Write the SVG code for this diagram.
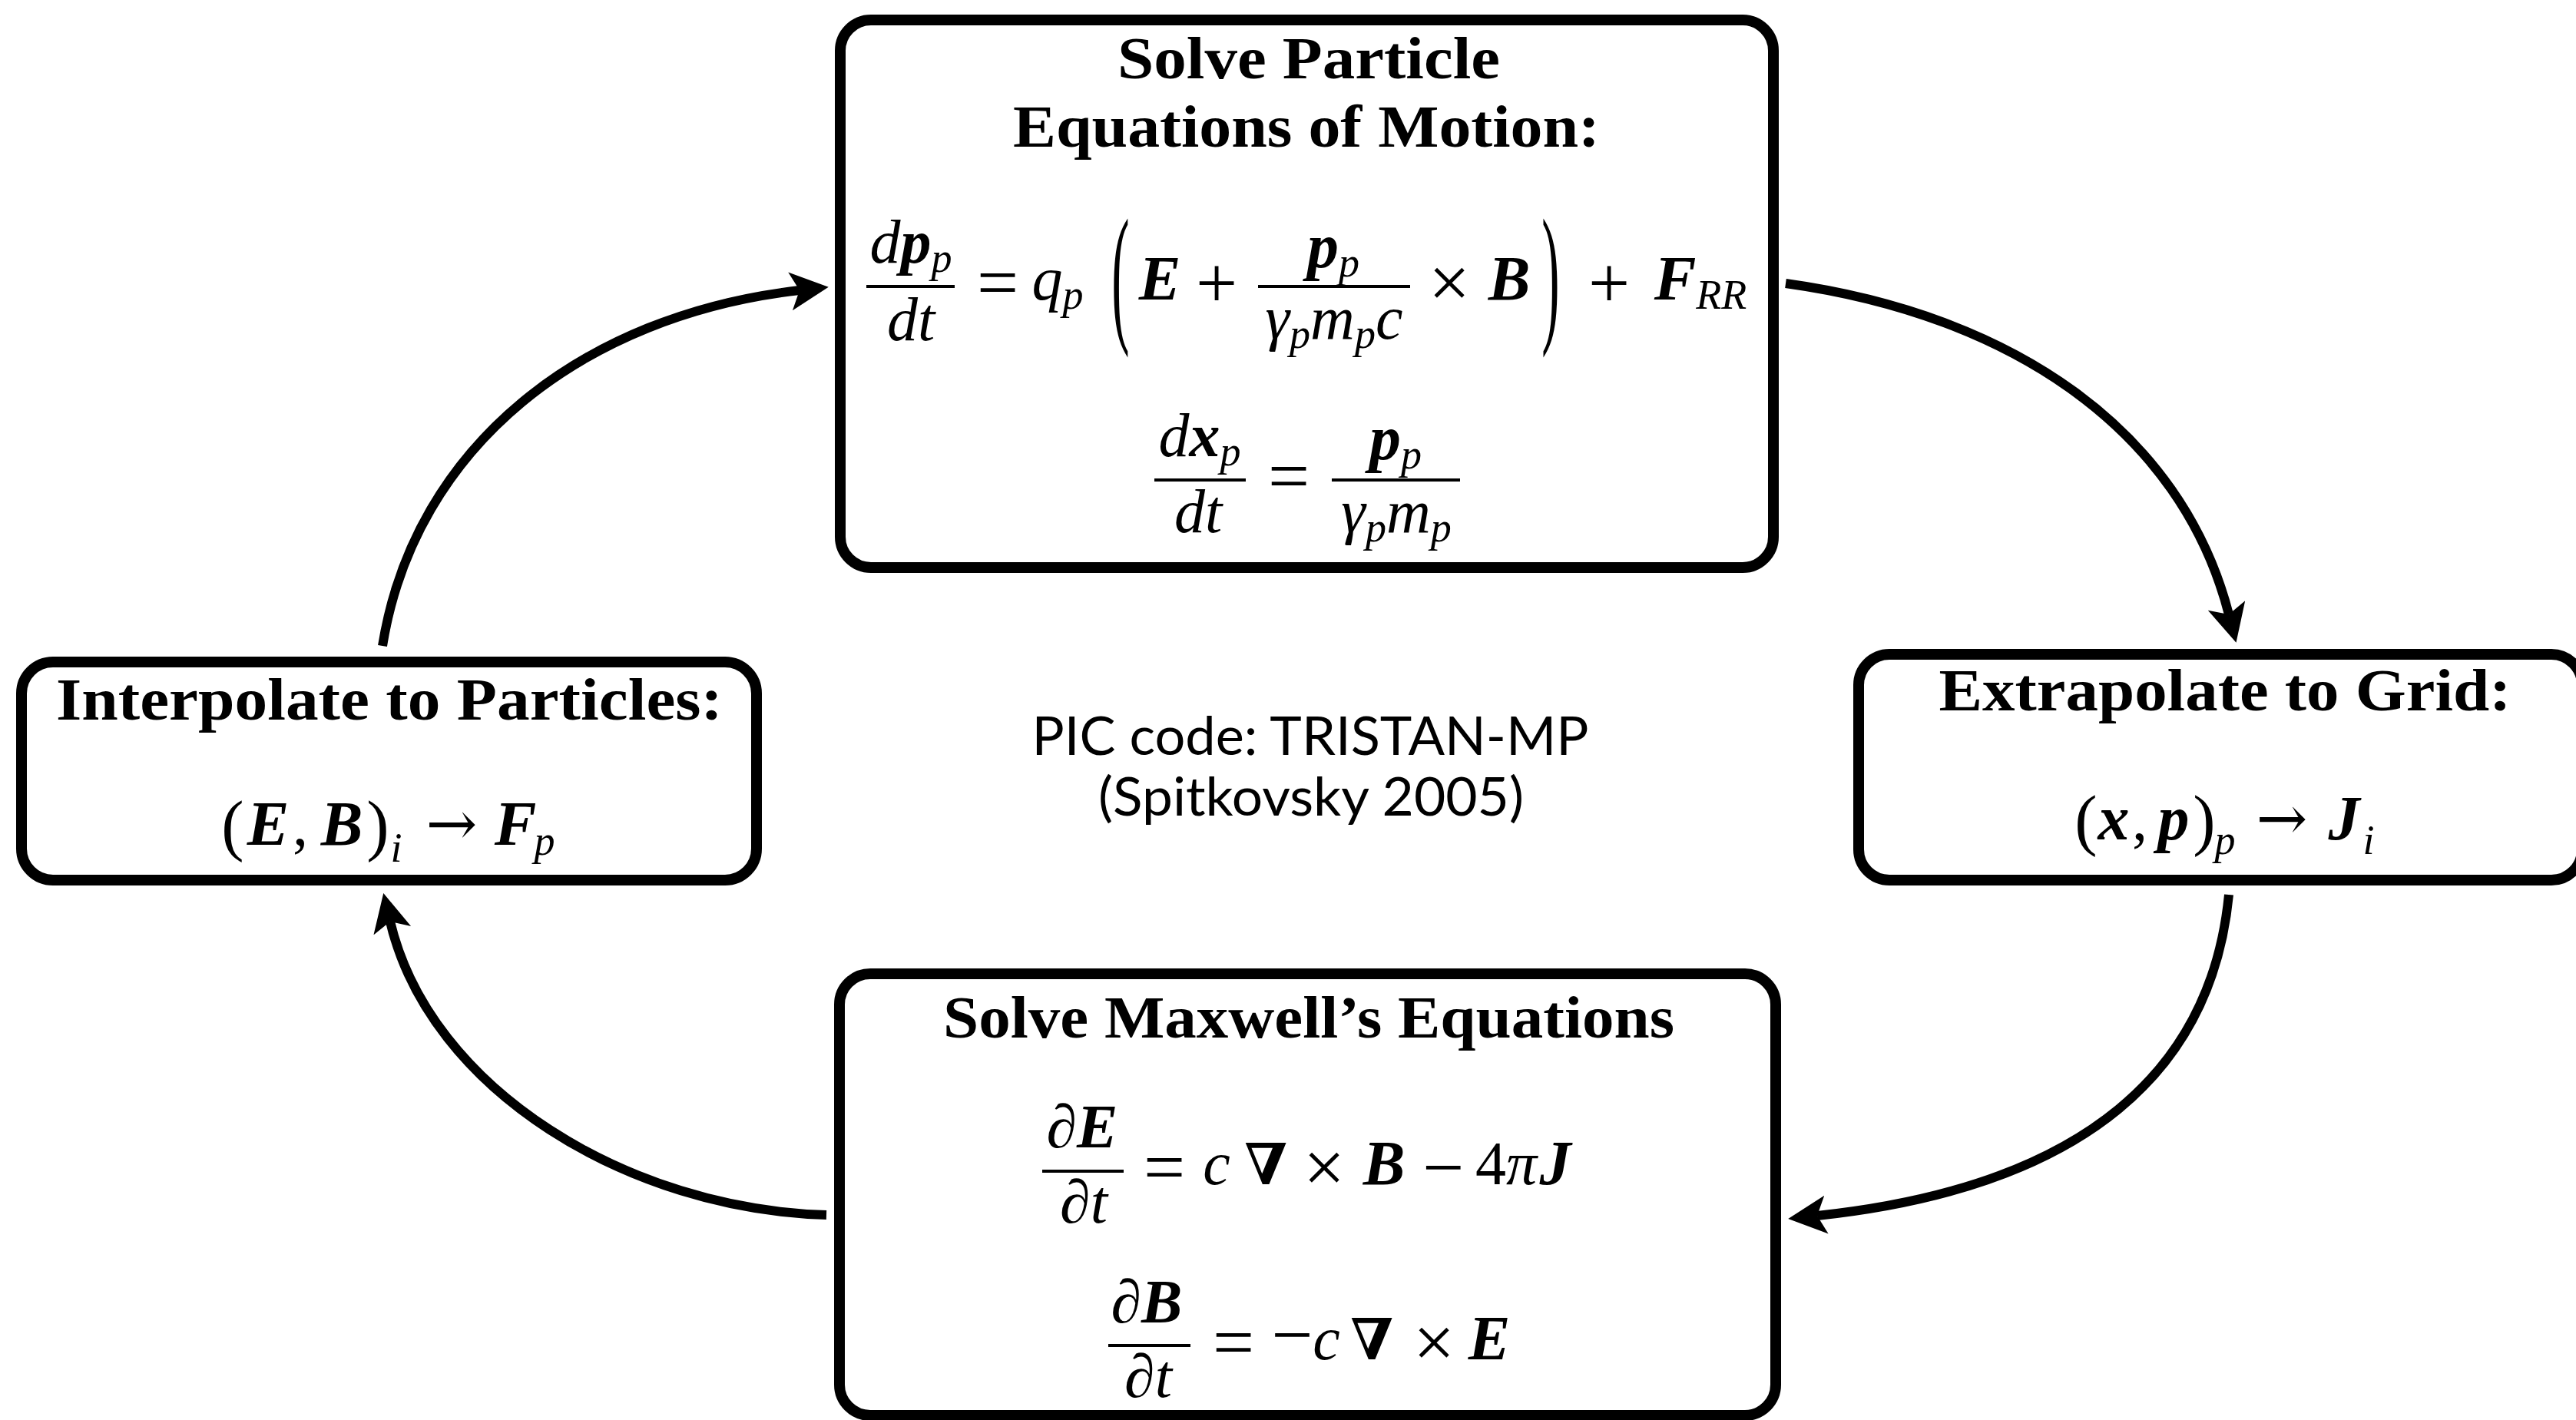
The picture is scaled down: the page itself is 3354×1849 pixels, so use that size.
<svg xmlns="http://www.w3.org/2000/svg" width="3354" height="1849" viewBox="0 0 3354 1849">
<style>
.bx{fill:#fff;stroke:#000;stroke-width:14}
.ttl{font-family:"Liberation Serif","DejaVu Serif",serif;font-weight:bold;font-size:78px;text-anchor:middle;fill:#000}
.mi{font-family:"Liberation Serif","DejaVu Serif",serif;font-style:italic;font-size:80px;text-anchor:middle;fill:#000}
.bi{font-family:"Liberation Serif","DejaVu Serif",serif;font-style:italic;font-weight:bold;font-size:82px;text-anchor:middle;fill:#000}
.rm{font-family:"Liberation Serif","DejaVu Serif",serif;font-size:80px;text-anchor:middle;fill:#000}
.op{font-family:"Liberation Serif","DejaVu Serif",serif;font-size:96px;text-anchor:middle;fill:#000}
.ar{font-family:"DejaVu Serif",serif;font-size:80px;text-anchor:middle;fill:#000}
.bp{font-family:"Liberation Serif","DejaVu Serif",serif;font-size:200px;text-anchor:middle;fill:#000}
.pr{font-family:"Liberation Serif","DejaVu Serif",serif;font-size:88px;text-anchor:middle;fill:#000}
.nb{font-family:"DejaVu Serif",serif;font-weight:bold;font-size:74px;text-anchor:middle;fill:#000}
.sb{font-size:54px;font-weight:normal;font-style:italic}
.gs{font-family:Lato,"Open Sans",sans-serif;font-size:70px;text-anchor:middle;fill:#000}
.fl{stroke:#000;stroke-width:4}
.cn{fill:none;stroke:#000;stroke-width:12}
</style>
<defs>
<marker id="ah" markerUnits="userSpaceOnUse" markerWidth="60" markerHeight="60" viewBox="0 0 60 60" refX="12" refY="25" orient="auto"><path d="M0,0 L50,25 L0,50 L12,25 Z" fill="#000"/></marker>
</defs>
<rect width="3354" height="1849" fill="#fff"/>

<g id="connectors">
<path class="cn" d="M2325 369 C2620 410 2840 560 2902 800" marker-end="url(#ah)"/>
<path class="cn" d="M2902 1165 C2880 1390 2720 1545 2366 1583" marker-end="url(#ah)"/>
<path class="cn" d="M1076 1582 C820 1575 560 1420 508 1200" marker-end="url(#ah)"/>
<path class="cn" d="M498 841 C540 580 760 410 1041 378" marker-end="url(#ah)"/>
</g>

<g id="node-particles">
<rect class="bx" x="1094" y="26" width="1215" height="713" rx="40"/>
<text class="ttl" x="1704" y="102" textLength="498" lengthAdjust="spacingAndGlyphs">Solve Particle</text>
<text class="ttl" x="1701" y="191" textLength="764" lengthAdjust="spacingAndGlyphs">Equations of Motion:</text>
<text class="mi" x="1186" y="342">d<tspan font-weight="bold">p</tspan><tspan class="sb" dy="12">p</tspan></text>
<line class="fl" x1="1128" y1="373" x2="1243" y2="373"/>
<text class="mi" x="1186" y="443">dt</text>
<text class="op" x="1299" y="400">=</text>
<text class="mi" x="1377" y="390">q<tspan class="sb" dy="12">p</tspan></text>
<text class="bp" transform="translate(1459,0) scale(0.35,1)" x="0" y="423">(</text>
<text class="bi" x="1510" y="390">E</text>
<text class="op" x="1584" y="400">+</text>
<text class="bi" x="1736" y="348">p<tspan class="sb" dy="12">p</tspan></text>
<line class="fl" x1="1638" y1="373" x2="1836" y2="373"/>
<text class="mi" x="1737" y="441">γ<tspan class="sb" dy="12">p</tspan><tspan dy="-12">m</tspan><tspan class="sb" dy="12">p</tspan><tspan dy="-12">c</tspan></text>
<text class="op" x="1887" y="400">×</text>
<text class="bi" x="1965" y="390">B</text>
<text class="bp" transform="translate(2019,0) scale(0.35,1)" x="0" y="423">)</text>
<text class="op" x="2095" y="400">+</text>
<text class="bi" x="2214" y="390">F<tspan class="sb" dy="12">RR</tspan></text>
<text class="mi" x="1562" y="594">d<tspan font-weight="bold">x</tspan><tspan class="sb" dy="12">p</tspan></text>
<line class="fl" x1="1503" y1="625" x2="1622" y2="625"/>
<text class="mi" x="1560" y="693">dt</text>
<text class="op" x="1678" y="652">=</text>
<text class="bi" x="1817" y="598">p<tspan class="sb" dy="12">p</tspan></text>
<line class="fl" x1="1734" y1="625" x2="1901" y2="625"/>
<text class="mi" x="1818" y="693">γ<tspan class="sb" dy="12">p</tspan><tspan dy="-12">m</tspan><tspan class="sb" dy="12">p</tspan></text>
</g>

<g id="node-extrapolate">
<rect class="bx" x="2420" y="852" width="942" height="294" rx="40"/>
<text class="ttl" x="2897" y="925" textLength="745" lengthAdjust="spacingAndGlyphs">Extrapolate to Grid:</text>
<text class="pr" x="2716" y="1097">(</text>
<text class="bi" x="2752" y="1093">x</text>
<text class="rm" x="2786" y="1093">,</text>
<text class="bi" x="2830" y="1093">p</text>
<text class="pr" x="2870" y="1097">)</text>
<text class="mi sb" x="2897" y="1112">p</text>
<text class="ar" x="2971" y="1093">→</text>
<text class="bi" x="3052" y="1093">J</text>
<text class="mi sb" x="3084" y="1112">i</text>
</g>

<g id="node-maxwell">
<rect class="bx" x="1093" y="1268" width="1219" height="575" rx="40"/>
<text class="ttl" x="1704" y="1351" textLength="952" lengthAdjust="spacingAndGlyphs">Solve Maxwell’s Equations</text>
<text class="mi" x="1409" y="1494">∂<tspan font-weight="bold">E</tspan></text>
<line class="fl" x1="1357" y1="1525" x2="1463" y2="1525"/>
<text class="mi" x="1411" y="1592">∂t</text>
<text class="op" x="1516" y="1552">=</text>
<text class="mi" x="1584" y="1542">c</text>
<text class="nb" x="1648" y="1542">∇</text>
<text class="op" x="1724" y="1552">×</text>
<text class="bi" x="1802" y="1542">B</text>
<text class="op" x="1879" y="1552">−</text>
<text class="rm" x="1961" y="1542">4<tspan font-style="italic">π</tspan></text>
<text class="bi" x="2025" y="1542">J</text>
<text class="mi" x="1493" y="1722">∂<tspan font-weight="bold">B</tspan></text>
<line class="fl" x1="1443" y1="1752" x2="1550" y2="1752"/>
<text class="mi" x="1495" y="1819">∂t</text>
<text class="op" x="1606" y="1780">=</text>
<text class="rm" x="1700" y="1770"><tspan style="font-size:96px">−</tspan><tspan font-style="italic">c</tspan></text>
<text class="nb" x="1786" y="1770">∇</text>
<text class="op" x="1867" y="1780">×</text>
<text class="bi" x="1939" y="1770">E</text>
</g>

<g id="node-interpolate">
<rect class="bx" x="28" y="862" width="957" height="284" rx="41"/>
<text class="ttl" x="507" y="937" textLength="868" lengthAdjust="spacingAndGlyphs">Interpolate to Particles:</text>
<text class="pr" x="303" y="1104">(</text>
<text class="bi" x="349" y="1100">E</text>
<text class="rm" x="391" y="1100">,</text>
<text class="bi" x="445" y="1100">B</text>
<text class="pr" x="492" y="1104">)</text>
<text class="mi sb" x="516" y="1122">i</text>
<text class="ar" x="588" y="1100">→</text>
<text class="bi" x="671" y="1100">F</text>
<text class="mi sb" x="709" y="1113">p</text>
</g>

<g id="label-center">
<text class="gs" x="1706" y="983" textLength="725" lengthAdjust="spacingAndGlyphs">PIC code: TRISTAN-MP</text>
<text class="gs" x="1707" y="1062" textLength="554" lengthAdjust="spacingAndGlyphs">(Spitkovsky 2005)</text>
</g>
</svg>
